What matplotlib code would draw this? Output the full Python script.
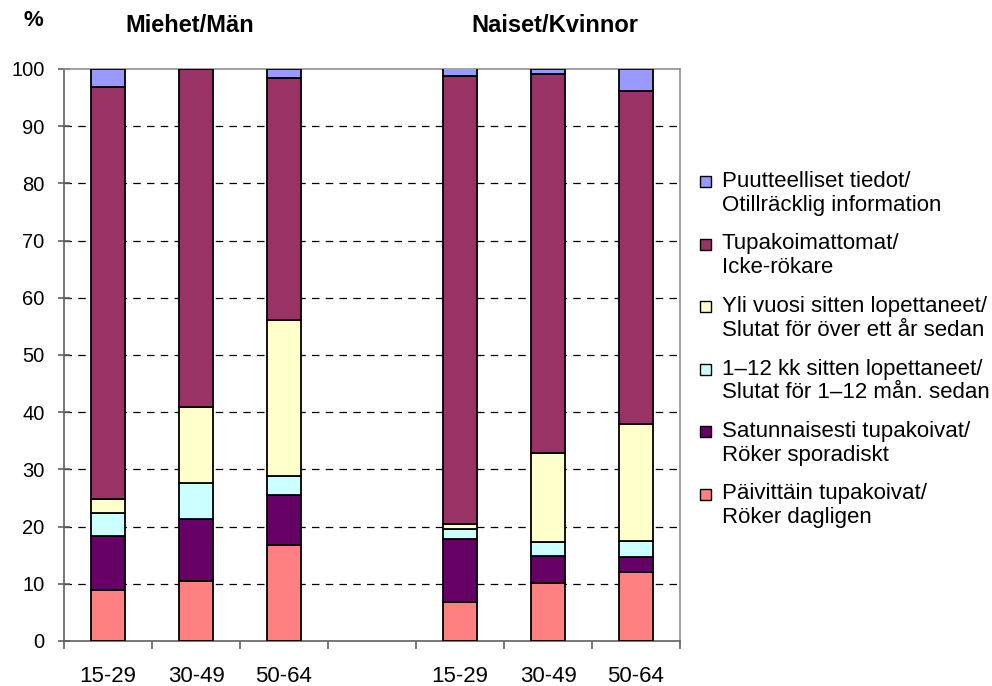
import numpy as np
import matplotlib
matplotlib.use("Agg")
from matplotlib import pyplot as plt
import matplotlib.patches as patches

plt.rcParams['font.family'] = ['Liberation Sans', 'DejaVu Sans']

# categories: men 15-29, 30-49, 50-64, (gap), women 15-29, 30-49, 50-64
age_labels = ['15-29', '30-49', '50-64', '', '15-29', '30-49', '50-64']

# values per category (gap column is zero)
daily = [8.9, 10.5, 16.8, 0, 6.9, 10.1, 12.0]
sporadic = [9.5, 10.8, 8.8, 0, 10.9, 4.8, 2.6]
quit_1_12 = [3.9, 6.4, 3.2, 0, 1.7, 2.4, 2.9]
quit_over = [2.6, 13.2, 27.4, 0, 0.9, 15.6, 20.4]
non_smokers = [71.9, 59.1, 42.2, 0, 78.3, 66.2, 58.3]
missing = [3.2, 0.0, 1.6, 0, 1.7, 0.9, 3.8]

series = [daily, sporadic, quit_1_12, quit_over, non_smokers, missing]
names = ['Päivittäin tupakoivat/\nRöker dagligen',
         'Satunnaisesti tupakoivat/\nRöker sporadiskt',
         '1\u201312 kk sitten lopettaneet/\nSlutat för 1\u201312 mån. sedan',
         'Yli vuosi sitten lopettaneet/\nSlutat för över ett år sedan',
         'Tupakoimattomat/\nIcke-rökare',
         'Puutteelliset tiedot/\nOtillräcklig information']
colors = ['#FF8080', '#660066', '#CCFFFF', '#FFFFCC', '#993366', '#9999FF']

W, H = 992, 686
fig = plt.figure(figsize=(W / 100, H / 100), dpi=100)
ax = fig.add_axes([64/W, 1-641/H, 616/W, 572/H])

x = np.arange(len(age_labels))
bottom = np.zeros(len(x))
mask = x != 3
for vals, name, col in zip(series, names, colors):
    vals = np.array(vals, dtype=float)
    ax.bar(x[mask], vals[mask], 0.39, bottom=bottom[mask], color=col,
           edgecolor='black', linewidth=1.3, zorder=3)
    bottom += vals

ax.set_xlim(-0.5, 6.5)
ax.set_ylim(0, 100)
ax.set_yticks(range(0, 101, 10))
ax.set_xticks(np.arange(-0.5, 7, 1))
ax.set_xticklabels([])
ax.set_xticks(x, minor=True)
ax.set_xticklabels(age_labels, minor=True)
ax.tick_params(axis='x', which='minor', length=0, labelsize=16, pad=18)
ax.tick_params(axis='x', which='major', length=6, width=1.2, direction='out', color='#606060')
ax.tick_params(axis='y', labelsize=14.5, length=8, width=1.2, direction='inout', color='#606060', pad=10)

for y in range(10, 100, 10):
    ax.axhline(y, color='black', linewidth=0.9, linestyle=(0, (6, 5)), zorder=1)

for side, s in ax.spines.items():
    s.set_linewidth(1.2)
    s.set_color('#606060' if side in ('left', 'bottom') else '#909090')

fig.text(33/W, 1-21/H, '%', fontsize=16, fontweight='bold', ha='center', va='center')
fig.text(190/W, 1-25/H, 'Miehet/Män', fontsize=17, fontweight='bold', ha='center', va='center')
fig.text(555/W, 1-25/H, 'Naiset/Kvinnor', fontsize=17, fontweight='bold', ha='center', va='center')

# legend drawn by hand: square aligned with first text line
for i, (name, col) in enumerate(zip(names[::-1], colors[::-1])):
    top = 176 + i * 62.5
    fig.patches.append(patches.Rectangle((700/W, 1-(top+11)/H), 11/W, 11/H,
                                         facecolor=col, edgecolor='black',
                                         linewidth=1.0, transform=fig.transFigure,
                                         figure=fig))
    fig.text(722/W, 1-(top-5)/H, name, fontsize=16, ha='left', va='top',
             linespacing=1.17)

fig.savefig('out.png', dpi=100)
